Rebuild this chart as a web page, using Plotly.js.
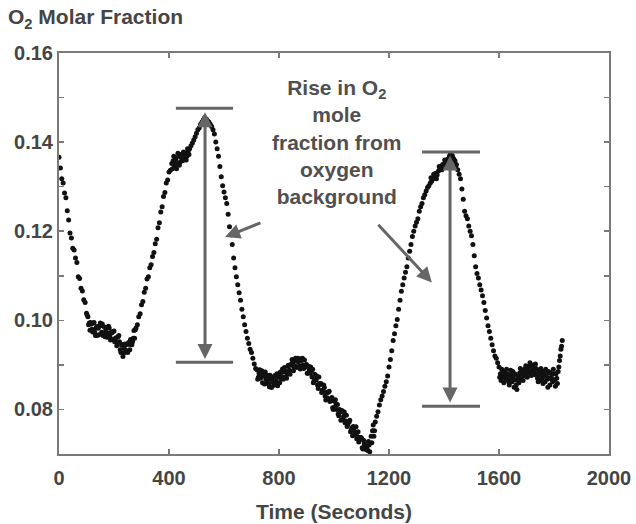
<!DOCTYPE html>
<html>
<head>
<meta charset="utf-8">
<script src="https://cdn.plot.ly/plotly-3.0.1.min.js"></script>
<style>html,body{margin:0;padding:0;background:#fff}</style>
</head>
<body>
<div id="chart" style="width:636px;height:524px"></div>
<script>
// Time in seconds (main sampling)
var timeSec = [
0,5,10,15,20,25,30,35,40,45,50,55,60,65,70,75,80,85,90,95,
100,105,110,115,120,125,130,135,140,145,150,155,160,165,170,175,180,185,190,195,
200,205,210,215,220,225,230,235,240,245,250,255,260,265,270,275,280,285,290,295,
300,305,310,315,320,325,330,335,340,345,350,355,360,365,370,375,380,385,390,395,
400,405,410,415,420,425,430,435,440,445,450,455,460,465,470,475,480,485,490,495,
500,505,510,515,520,525,530,535,540,545,550,555,560,565,570,575,580,585,590,595,
600,605,610,615,620,625,630,635,640,645,650,655,660,665,670,675,680,685,690,695,
700,705,710,715,720,725,730,735,740,745,750,755,760,765,770,775,780,785,790,795,
800,805,810,815,820,825,830,835,840,845,850,855,860,865,870,875,880,885,890,895,
900,905,910,915,920,925,930,935,940,945,950,955,960,965,970,975,980,985,990,995,
1000,1005,1010,1015,1020,1025,1030,1035,1040,1045,1050,1055,1060,1065,1070,1075,1080,1085,1090,1095,
1100,1105,1110,1115,1120,1125,1130,1135,1140,1145,1150,1155,1160,1165,1170,1175,1180,1185,1190,1195,
1200,1205,1210,1215,1220,1225,1230,1235,1240,1245,1250,1255,1260,1265,1270,1275,1280,1285,1290,1295,
1300,1305,1310,1315,1320,1325,1330,1335,1340,1345,1350,1355,1360,1365,1370,1375,1380,1385,1390,1395,
1400,1405,1410,1415,1420,1425,1430,1435,1440,1445,1450,1455,1460,1465,1470,1475,1480,1485,1490,1495,
1500,1505,1510,1515,1520,1525,1530,1535,1540,1545,1550,1555,1560,1565,1570,1575,1580,1585,1590,1595,
1600,1605,1610,1615,1620,1625,1630,1635,1640,1645,1650,1655,1660,1665,1670,1675,1680,1685,1690,1695,
1700,1705,1710,1715,1720,1725,1730,1735,1740,1745,1750,1755,1760,1765,1770,1775,1780,1785,1790,1795,
1800,1805,1810,1815,1820,1825,1830
];

// O2 molar fraction (main sampling)
var o2Fraction = [
// 0 - 120
0.1366,0.1342,0.1318,0.1308,0.1286,0.1275,0.1246,0.1225,0.1196,0.1185,0.1162,0.1158,0.1140,0.1130,0.1098,0.1094,0.1072,0.1066,0.1046,0.1040,0.1016,0.1008,0.0994,0.0995,0.0980,
// 125 - 280
0.0994,0.0973,0.0983,0.0966,0.0986,0.0994,0.0973,0.0966,0.0985,0.0977,0.0962,0.0987,0.0965,0.0974,0.0957,0.0976,
0.0960,0.0943,0.0963,0.0952,0.0928,0.0946,0.0926,0.0947,0.0932,0.0928,0.0946,0.0957,0.0945,0.0960,0.0960,0.0983,
// 285 - 410
0.0990,0.1008,0.1015,0.1035,0.1042,0.1063,0.1072,0.1093,0.1098,0.1118,0.1125,0.1143,0.1152,0.1172,0.1182,0.1208,0.1219,0.1243,0.1255,0.1278,0.1287,0.1308,0.1315,0.1333,0.1337,0.1352,
// 415 - 530
0.1358,0.1345,0.1362,0.1352,0.1368,0.1355,0.1365,0.1372,0.1360,0.1375,0.1368,0.1380,0.1385,0.1392,0.1398,0.1405,0.1412,0.1420,0.1428,0.1432,0.1440,0.1445,0.1450,0.1455,
// 535 - 715
0.1452,0.1448,0.1445,0.1440,0.1435,0.1428,0.1418,0.1400,0.1385,0.1368,0.1345,0.1322,0.1302,0.1288,0.1275,0.1262,0.1238,0.1210,0.1192,0.1170,0.1140,0.1118,0.1098,0.1080,0.1062,0.1045,0.1025,0.1008,0.0990,0.0975,0.0960,0.0948,0.0935,0.0928,0.0915,0.0902,0.0892,
// 720 - 1135
0.0889,0.0872,0.0889,0.0872,0.0860,0.0875,0.0884,0.0859,0.0867,0.0851,0.0872,0.0867,0.0854,0.0876,0.0863,0.0853,0.0876,0.0884,0.0874,0.0868,
0.0894,0.0885,0.0879,0.0899,0.0879,0.0899,0.0906,0.0895,0.0915,0.0894,0.0907,0.0914,0.0898,0.0915,0.0892,0.0895,0.0901,0.0881,0.0889,0.0895,
0.0873,0.0860,0.0879,0.0866,0.0855,0.0873,0.0856,0.0838,0.0843,0.0849,0.0821,0.0837,0.0839,0.0818,0.0821,0.0804,0.0819,0.0822,0.0800,0.0790,
0.0800,0.0776,0.0797,0.0785,0.0770,0.0787,0.0766,0.0772,0.0750,0.0759,0.0762,0.0743,0.0761,0.0739,0.0727,0.0737,0.0736,0.0711,0.0723,0.0711,
0.0712,0.0728,0.0705,0.0740,
// 1140 - 1600
0.0752,0.0740,0.0772,0.0785,0.0795,0.0810,0.0822,0.0830,0.0840,0.0852,0.0862,0.0875,0.0895,0.0912,0.0932,0.0955,0.0970,0.0988,0.1002,0.1025,
0.1045,0.1065,0.1080,0.1095,0.1108,0.1120,0.1140,0.1155,0.1170,0.1188,0.1200,0.1212,0.1220,0.1228,0.1245,0.1255,0.1262,0.1275,0.1282,0.1290,
0.1298,0.1302,0.1308,0.1312,0.1318,0.1322,0.1330,0.1326,0.1335,0.1340,0.1345,0.1350,0.1348,0.1355,0.1360,0.1362,0.1368,0.1365,0.1370,0.1362,
0.1358,0.1350,0.1338,0.1328,0.1318,0.1295,0.1272,0.1245,0.1235,0.1228,0.1212,0.1200,0.1190,0.1170,0.1145,0.1120,0.1105,0.1095,0.1080,0.1068,
0.1055,0.1040,0.1022,0.1005,0.0988,0.0975,0.0960,0.0945,0.0932,0.0920,0.0915,0.0905,0.0895,
// 1605 - 1830
0.0880,0.0890,0.0872,0.0885,0.0868,0.0880,0.0862,0.0878,0.0870,0.0885,0.0850,0.0866,0.0845,0.0875,0.0882,0.0868,0.0888,0.0875,0.0892,0.0880,
0.0895,0.0882,0.0898,0.0886,0.0900,0.0878,0.0892,0.0870,0.0888,0.0865,0.0882,0.0858,0.0876,0.0890,0.0868,0.0885,0.0855,0.0872,0.0862,0.0880,
0.0852,0.0870,0.0885,0.0910,0.0935,0.0955
];

// Extra readings in the scattered (noisy) stretches
var scatterTime = [
102.5,107.5,112.5,117.5,122.5,127.5,132.5,137.5,142.5,147.5,
152.5,157.5,162.5,167.5,172.5,177.5,182.5,187.5,192.5,197.5,
202.5,207.5,212.5,217.5,222.5,227.5,232.5,237.5,242.5,247.5,
252.5,257.5,262.5,267.5,272.5,277.5,
412.5,417.5,422.5,427.5,432.5,437.5,442.5,447.5,452.5,457.5,462.5,467.5,472.5,
722.5,727.5,732.5,737.5,742.5,747.5,752.5,757.5,762.5,767.5,
772.5,777.5,782.5,787.5,792.5,797.5,802.5,807.5,812.5,817.5,
822.5,827.5,832.5,837.5,842.5,847.5,852.5,857.5,862.5,867.5,
872.5,877.5,882.5,887.5,892.5,897.5,902.5,907.5,912.5,917.5,
922.5,927.5,932.5,937.5,942.5,947.5,952.5,957.5,962.5,967.5,
972.5,977.5,982.5,987.5,992.5,997.5,1002.5,1007.5,1012.5,1017.5,
1022.5,1027.5,1032.5,1037.5,1042.5,1047.5,1052.5,1057.5,1062.5,1067.5,
1072.5,1077.5,1082.5,1087.5,1092.5,1097.5,1102.5,1107.5,1112.5,1117.5,
1122.5,1127.5,1137.5,1142.5,1147.5,
1352.5,1362.5,1372.5,1382.5,1392.5,1402.5,1412.5,1422.5,1432.5,1442.5,
1602.5,1607.5,1612.5,1617.5,1622.5,1627.5,1632.5,1637.5,1642.5,1647.5,
1652.5,1657.5,1662.5,1667.5,1672.5,1677.5,1682.5,1687.5,1692.5,1697.5,
1702.5,1707.5,1712.5,1717.5,1722.5,1727.5,1732.5,1737.5,1742.5,1747.5,
1752.5,1757.5,1762.5,1767.5,1772.5,1777.5,1782.5,1787.5,1792.5,1797.5,
1802.5,1807.5,1812.5,1817.5,1822.5,1827.5
];
var scatterO2 = [
0.1012,0.0990,0.0978,0.0992,0.0974,0.0995,0.0966,0.0986,0.0982,0.0968,
0.0988,0.0992,0.0971,0.0963,0.0984,0.0971,0.0983,0.0956,0.0972,0.0975,
0.0952,0.0961,0.0950,0.0966,0.0934,0.0944,0.0919,0.0937,0.0945,0.0931,
0.0950,0.0934,0.0955,0.0952,0.0977,0.0979,
0.1340,0.1368,0.1352,0.1340,0.1375,0.1348,0.1372,0.1358,0.1378,0.1366,0.1360,0.1385,0.1372,
0.0868,0.0881,0.0870,0.0887,0.0878,0.0857,0.0868,0.0876,0.0858,0.0877,
0.0849,0.0862,0.0873,0.0860,0.0880,0.0872,0.0860,0.0869,0.0891,0.0884,
0.0872,0.0870,0.0898,0.0889,0.0901,0.0912,0.0887,0.0898,0.0909,0.0915,
0.0897,0.0891,0.0910,0.0899,0.0911,0.0900,0.0881,0.0897,0.0882,0.0886,
0.0890,0.0864,0.0867,0.0875,0.0847,0.0858,0.0858,0.0843,0.0855,0.0830,
0.0838,0.0825,0.0841,0.0821,0.0827,0.0800,0.0805,0.0812,0.0811,0.0786,
0.0794,0.0797,0.0778,0.0794,0.0774,0.0762,0.0772,0.0776,0.0754,0.0741,
0.0758,0.0749,0.0734,0.0750,0.0732,0.0737,0.0714,0.0731,0.0719,0.0710,
0.0708,0.0720,0.0725,0.0765,0.0752,
0.1320,0.1328,0.1318,0.1345,0.1338,0.1360,0.1352,0.1372,0.1365,0.1345,
0.0872,0.0865,0.0882,0.0860,0.0875,0.0890,0.0870,0.0855,0.0888,0.0862,
0.0875,0.0880,0.0855,0.0868,0.0860,0.0892,0.0878,0.0865,0.0885,0.0898,
0.0872,0.0888,0.0905,0.0876,0.0892,0.0885,0.0902,0.0880,0.0862,0.0878,
0.0892,0.0870,0.0885,0.0862,0.0878,0.0850,0.0870,0.0882,0.0868,0.0890,
0.0866,0.0880,0.0858,0.0895,0.0920,0.0942
];

var xTicks = [0, 400, 800, 1200, 1600, 2000];
var yTicks = [0.08, 0.10, 0.12, 0.14, 0.16];

var FONT = 'Liberation Sans, Arial, Helvetica, sans-serif';
var TXT = '#454545';
var AX = '#7a7a7a';
var ARW = '#666666';

var trace = {
  x: timeSec.concat(scatterTime), y: o2Fraction.concat(scatterO2),
  type: 'scatter', mode: 'markers',
  marker: {size: 5, color: '#111111'}, hoverinfo: 'x+y'
};

function bar(x0, x1, y) {
  return {type: 'line', xref: 'x', yref: 'y', x0: x0, x1: x1, y0: y, y1: y,
          line: {color: ARW, width: 3}};
}

var layout = {
  width: 636, height: 524,
  margin: {l: 59, r: 27, t: 53, b: 70},
  paper_bgcolor: '#fff', plot_bgcolor: '#fff',
  showlegend: false,
  font: {family: FONT, color: TXT},
  title: {
    text: 'O<sub>2</sub> Molar Fraction',
    font: {family: FONT, size: 21, weight: 'bold', color: TXT},
    x: 8 / 636, xref: 'container', xanchor: 'left',
    y: 1 - 17 / 524, yref: 'container', yanchor: 'middle'
  },
  xaxis: {
    range: [0, 2000], tickmode: 'array', tickvals: xTicks, ticktext: xTicks.map(String),
    ticks: 'inside', ticklen: 5, tickwidth: 1.5, tickcolor: AX, ticklabelstandoff: 5,
    showline: true, linecolor: AX, linewidth: 2, mirror: 'ticks',
    showgrid: false, zeroline: false,
    tickfont: {family: FONT, size: 20, weight: 'bold', color: TXT},
    title: {text: 'Time (Seconds)', font: {family: FONT, size: 21, weight: 'bold', color: TXT}, standoff: 16}
  },
  yaxis: {
    range: [0.07, 0.16], tickmode: 'array', tickvals: yTicks, ticktext: yTicks.map(function (v) { return v.toFixed(2); }),
    ticks: 'inside', ticklen: 5, tickwidth: 1.5, tickcolor: AX,
    minor: {tickmode: 'linear', tick0: 0, dtick: 0.01, ticks: 'inside', ticklen: 5, tickwidth: 1.5, tickcolor: AX, showgrid: false},
    showline: true, linecolor: AX, linewidth: 2, mirror: 'ticks',
    showgrid: false, zeroline: false,
    tickfont: {family: FONT, size: 20, weight: 'bold', color: TXT}
  },
  shapes: [
    bar(425, 633, 0.1476), bar(425, 633, 0.0906),
    bar(1320, 1531, 0.1378), bar(1320, 1531, 0.0807)
  ],
  annotations: [
    {x: 1011, y: 0.1400, xref: 'x', yref: 'y', showarrow: false,
     text: 'Rise in O<sub>2</sub><br>mole<br>fraction from<br>oxygen<br>background',
     font: {family: FONT, size: 21, weight: 'bold', color: '#505050'}, align: 'center'},
    {x: 531, y: 0.1467, ax: 531, ay: 0.0910, xref: 'x', yref: 'y', axref: 'x', ayref: 'y',
     text: '', showarrow: true, arrowhead: 2, arrowside: 'end+start', arrowsize: 1, arrowwidth: 3, arrowcolor: ARW},
    {x: 1422, y: 0.1370, ax: 1422, ay: 0.0812, xref: 'x', yref: 'y', axref: 'x', ayref: 'y',
     text: '', showarrow: true, arrowhead: 2, arrowside: 'end+start', arrowsize: 1, arrowwidth: 3, arrowcolor: ARW},
    {x: 604, y: 0.1187, ax: 738, ay: 0.1220, xref: 'x', yref: 'y', axref: 'x', ayref: 'y',
     text: '', showarrow: true, arrowhead: 2, arrowsize: 1, arrowwidth: 3, arrowcolor: ARW},
    {x: 1356, y: 0.1085, ax: 1156, ay: 0.1218, xref: 'x', yref: 'y', axref: 'x', ayref: 'y',
     text: '', showarrow: true, arrowhead: 2, arrowsize: 1, arrowwidth: 3, arrowcolor: ARW}
  ]
};

Plotly.newPlot('chart', [trace], layout, {displayModeBar: false, staticPlot: true});
if (timeSec.length !== o2Fraction.length) console.error('length mismatch main', timeSec.length, o2Fraction.length);
if (scatterTime.length !== scatterO2.length) console.error('length mismatch scatter', scatterTime.length, scatterO2.length);
</script>
</body>
</html>
